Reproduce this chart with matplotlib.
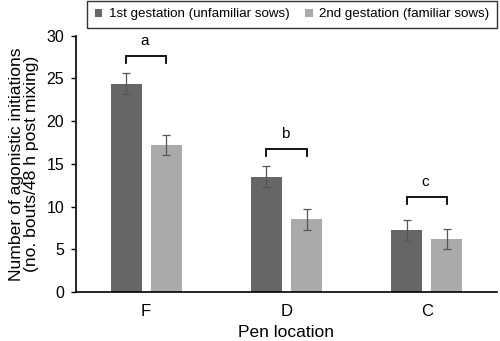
import matplotlib
matplotlib.use("Agg")
import matplotlib.pyplot as plt
import numpy as np

plt.rcParams['font.family'] = ['Liberation Sans', 'DejaVu Sans']

categories = ["F", "D", "C"]
series_names = ["1st gestation (unfamiliar sows)", "2nd gestation (familiar sows)"]
first_vals = [24.4, 13.5, 7.2]
second_vals = [17.2, 8.5, 6.2]
first_err = [1.2, 1.2, 1.2]
second_err = [1.2, 1.2, 1.2]
sig_letters = ["a", "b", "c"]
bracket_levels = [27.6, 16.7, 11.1]

fig = plt.figure(figsize=(5.0, 3.41), dpi=100)
ax = fig.add_axes([0.152, 0.144, 0.842, 0.751])

x = np.arange(len(categories))
w = 0.22
off = 0.143
ax.bar(x - off, first_vals, w, color="#666666", label=series_names[0], zorder=2)
ax.bar(x + off, second_vals, w, color="#aaaaaa", label=series_names[1], zorder=2)
ax.errorbar(x - off, first_vals, yerr=first_err, fmt="none", ecolor="#555555",
            elinewidth=0.9, capsize=3, capthick=0.9, zorder=3)
ax.errorbar(x + off, second_vals, yerr=second_err, fmt="none", ecolor="#555555",
            elinewidth=0.9, capsize=3, capthick=0.9, zorder=3)

for i, (lvl, letter) in enumerate(zip(bracket_levels, sig_letters)):
    x0, x1 = x[i] - off, x[i] + off
    ax.plot([x0, x0, x1, x1], [lvl - 0.8, lvl, lvl, lvl - 0.8], color="black", lw=1.3,
            solid_joinstyle="miter", zorder=4)
    ax.text(x[i] - 0.01, lvl + 1.0, letter, ha="center", va="bottom", fontsize=11)

ax.set_xlim(-0.5, 2.5)
ax.set_ylim(0, 30)
ax.set_yticks([0, 5, 10, 15, 20, 25, 30])
ax.set_xticks(x)
ax.set_xticklabels(categories)
ax.tick_params(axis="x", length=0, pad=9, labelsize=12)
ax.tick_params(axis="y", length=3.5, width=1, labelsize=11.5, pad=5)
ax.spines["top"].set_visible(False)
ax.spines["right"].set_visible(False)
ax.spines["left"].set_linewidth(1.2)
ax.spines["bottom"].set_linewidth(1.2)

ax.set_xlabel("Pen location", fontsize=12.5, labelpad=4)
ax.set_ylabel("Number of agonistic initiations\n(no. bouts/48 h post mixing)", fontsize=12.6,
              labelpad=5, linespacing=1.0)

leg = fig.legend(loc="upper right", bbox_to_anchor=(0.994, 0.997), ncol=2, fontsize=9.6,
                 frameon=True, fancybox=False, edgecolor="black", handlelength=0.55,
                 handleheight=0.55, columnspacing=1.2, handletextpad=0.5,
                 borderpad=0.55, borderaxespad=0)
leg.get_frame().set_linewidth(1.0)

fig.savefig("out.png", dpi=100)
